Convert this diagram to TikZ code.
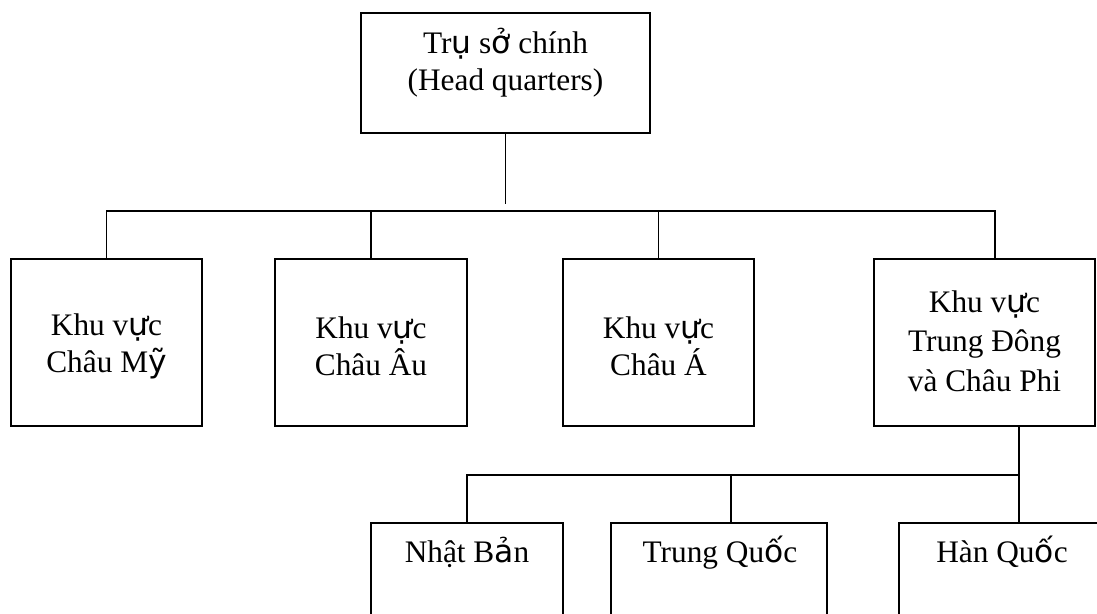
\documentclass[tikz,border=0pt]{standalone}
\usepackage{fontspec}
\setmainfont{Liberation Serif}
\newfontfamily\accfont{DejaVu Sans}
% letters with stacked Vietnamese marks are set in a sans face
\newcommand{\acc}[1]{{\accfont #1}}
\begin{document}
\begin{tikzpicture}[x=0.75pt,y=-0.75pt,
  box/.style={draw, line width=1.3pt, inner sep=0pt, outer sep=0pt},
  label/.style={inner sep=0pt, align=center, font=\fontsize{23.5}{27.75}\selectfont},
  link/.style={line width=1.3pt}]
\useasboundingbox (0,0) rectangle (1097,614);

% head office
\node[box, minimum width=216.75pt, minimum height=90pt] (hq) at (505.5,73) {};
\node[label] (hqt) at (505.5,62.5) {Tr\acc{ụ} s\acc{ở} chính\\(Head quarters)};

% regions
\node[box, minimum width=143.25pt, minimum height=125.25pt] (b1) at (106.5,342.5) {};
\node[box, minimum width=144pt,    minimum height=125.25pt] (b2) at (371,342.5) {};
\node[box, minimum width=143.25pt, minimum height=125.25pt] (b3) at (658.5,342.5) {};
\node[box, minimum width=165.75pt, minimum height=125.25pt] (b4) at (984.5,342.5) {};
\node[label] (b1t) at (106.5,346) {Khu v\acc{ự}c\\Châu M\acc{ỹ}};
\node[label] (b2t) at (371,346) {Khu v\acc{ự}c\\Châu Âu};
\node[label] (b3t) at (658.5,346) {Khu v\acc{ự}c\\Châu Á};
\node[label, font=\fontsize{23.5}{29.5}\selectfont] (b4t) at (984.5,341)
  {Khu v\acc{ự}c\\Trung Đông\\và Châu Phi};

% countries
\node[box, minimum width=144pt,   minimum height=95.25pt] (b5) at (467,586.5) {};
\node[box, minimum width=162pt,   minimum height=95.25pt] (b6) at (719,586.5) {};
\node[box, minimum width=154.5pt, minimum height=95.25pt] (b7) at (1002,586.5) {};
\node[label, anchor=base] (b5t) at (467,562) {Nhật B\acc{ả}n};
\node[label, anchor=base] (b6t) at (720,562) {Trung Qu\acc{ố}c};
\node[label, anchor=base] (b7t) at (1002,562) {Hàn Qu\acc{ố}c};

% connector points
\coordinate (hqend) at (505.5,204);
\coordinate (bus1) at (995,211);
\coordinate (drop) at (1019,475);
\coordinate (c6) at (731,475);

% head office to regions
\draw[link] (hq.south) -- (hqend);
\draw[link] (b1.north) |- (bus1) -- (bus1 |- b4.north);
\draw[link] (b2.north) -- (b2.north |- bus1);
\draw[link] (b3.north) -- (b3.north |- bus1);

% region to countries
\draw[link] (drop |- b4.south) -- (drop |- b7.north);
\draw[link] (b5.north) |- (drop);
\draw[link] (c6) -- (c6 |- b6.north);
\end{tikzpicture}
\end{document}
